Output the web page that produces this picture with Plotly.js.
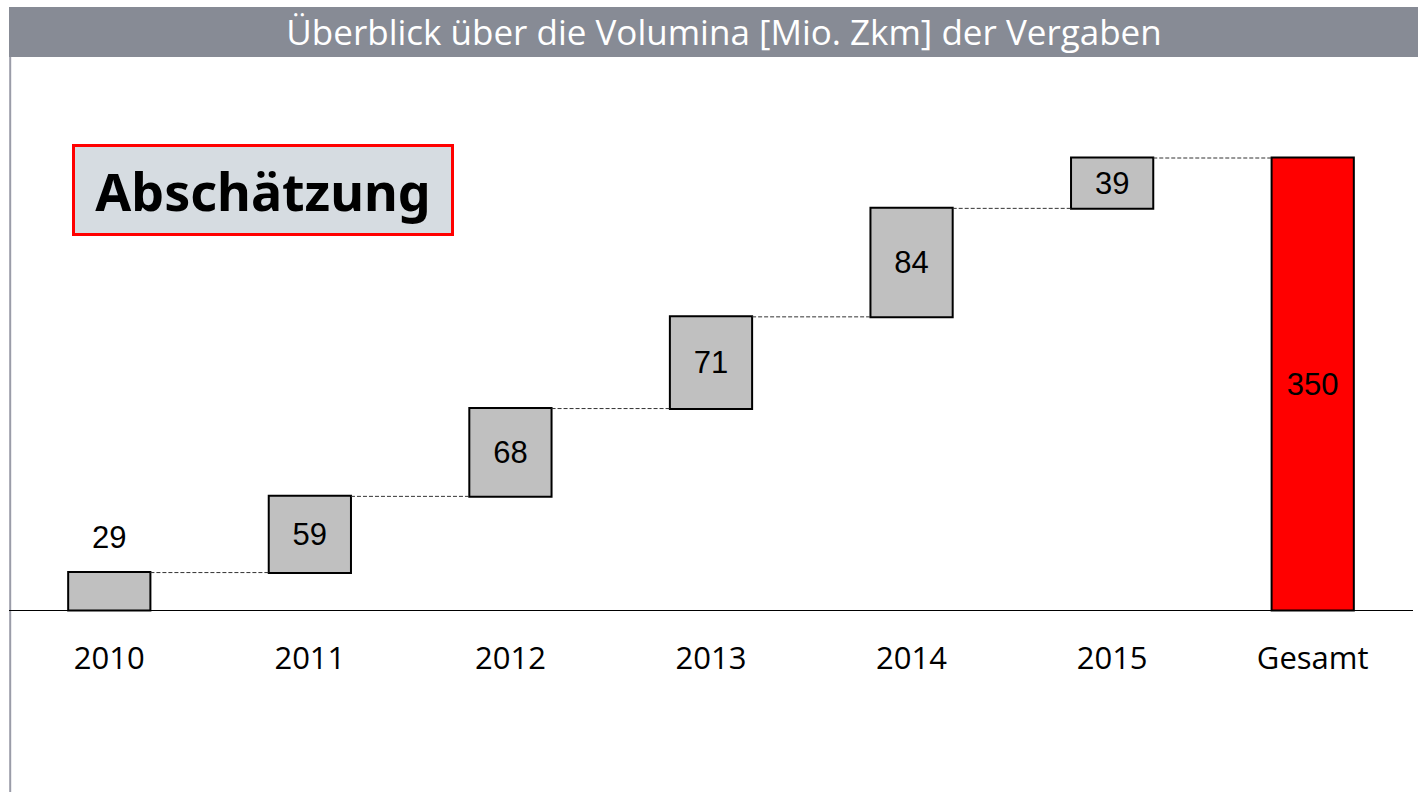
<!DOCTYPE html>
<html>
<head>
<meta charset="utf-8">
<script src="https://cdn.plot.ly/plotly-3.0.1.min.js"></script>
<style>html,body{margin:0;padding:0;background:#fff;}#chart{width:1418px;height:792px;}</style>
</head>
<body>
<div id="chart"></div>
<script>
const categories = ["2010", "2011", "2012", "2013", "2014", "2015", "Gesamt"];
const values = [29, 59, 68, 71, 84, 39, 350];
const measures = ["relative", "relative", "relative", "relative", "relative", "relative", "total"];
const chartTitle = "Überblick über die Volumina [Mio. Zkm] der Vergaben";
const badgeText = "Abschätzung";

const labels = values.map(v => String(v));
const textPositions = values.map((v, i) => i === 0 ? "none" : "inside");

const trace = {
  type: "waterfall",
  x: categories,
  y: values,
  measure: measures,
  text: labels,
  textinfo: "text",
  textposition: textPositions,
  insidetextanchor: "middle",
  constraintext: "none",
  textfont: {family: "Liberation Sans, Arial, sans-serif", size: 31, color: "#000"},
  insidetextfont: {family: "Liberation Sans, Arial, sans-serif", size: 31, color: "#000"},
  width: 0.41,
  increasing: {marker: {color: "#c0c0c0", line: {color: "#000", width: 2}}},
  decreasing: {marker: {color: "#c0c0c0", line: {color: "#000", width: 2}}},
  totals: {marker: {color: "#ff0000", line: {color: "#000", width: 2}}},
  connector: {mode: "between", line: {color: "#333", width: 1, dash: "4px,2px"}},
  hoverinfo: "none"
};

const firstIdx = 0;

const layout = {
  width: 1418,
  height: 792,
  margin: {l: 9, r: 5, t: 57, b: 0, pad: 0},
  paper_bgcolor: "#fff",
  plot_bgcolor: "rgba(0,0,0,0)",
  showlegend: false,
  title: {
    text: chartTitle,
    font: {family: "Open Sans, Noto Sans, sans-serif", size: 35, color: "#fff", weight: 400},
    x: 0.5106, xanchor: "center", xref: "container",
    y: 1 - 33 / 792, yanchor: "middle", yref: "container"
  },
  xaxis: {
    type: "category",
    range: [-0.5, 6.5],
    anchor: "free",
    position: 182 / 735,
    showline: true,
    linecolor: "#000",
    linewidth: 1,
    showgrid: false,
    zeroline: false,
    ticks: "",
    ticklabelstandoff: 21,
    tickfont: {family: "Open Sans, Noto Sans, sans-serif", size: 31, color: "#000"},
    fixedrange: true
  },
  yaxis: {
    range: [-140.9, 428.2],
    showgrid: false,
    zeroline: false,
    showline: false,
    showticklabels: false,
    ticks: "",
    fixedrange: true
  },
  shapes: [
    {type: "rect", xref: "paper", yref: "paper", x0: 0, x1: 1.0036, y0: 1, y1: (792 - 7) / 735,
     fillcolor: "#878b95", line: {width: 0}, layer: "below"},
    {type: "line", xref: "paper", yref: "paper", x0: 1.2 / 1404, x1: 1.2 / 1404, y0: -0.01, y1: 1,
     line: {color: "#9a9ca8", width: 2}, layer: "below"}
  ],
  annotations: [
    {
      text: labels[firstIdx],
      x: firstIdx, y: values[firstIdx], xref: "x", yref: "y",
      showarrow: false, yanchor: "middle", xanchor: "center", yshift: 35,
      font: {family: "Liberation Sans, Arial, sans-serif", size: 31, color: "#000"}
    },
    {
      text: "<b>" + badgeText + "</b>",
      xref: "paper", yref: "paper",
      x: (263 - 9) / 1404, y: (792 - 190.5) / 735,
      xanchor: "center", yanchor: "middle",
      showarrow: false,
      width: 376, height: 86,
      bgcolor: "#d6dce1",
      bordercolor: "#ff0000", borderwidth: 3, borderpad: 0,
      font: {family: "Noto Sans, Open Sans, sans-serif", size: 52, color: "#000"}
    }
  ]
};

Plotly.newPlot("chart", [trace], layout, {displayModeBar: false, staticPlot: true});
</script>
</body>
</html>
